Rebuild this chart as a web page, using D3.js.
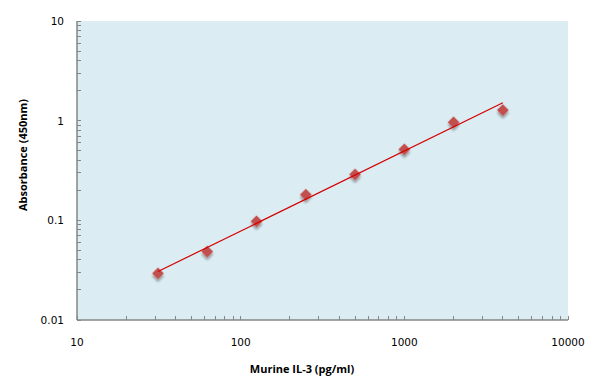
<!DOCTYPE html>
<html><head><meta charset="utf-8">
<script src="https://cdn.jsdelivr.net/npm/d3@7/dist/d3.min.js"></script>
<style>body{margin:0;background:#fff}svg{display:block}</style>
</head><body>
<svg id="c" width="596" height="391"></svg>
<script>
const concentrations = [31.25, 62.5, 125, 250, 500, 1000, 2000, 4000];
const absorbance = [0.0294, 0.0486, 0.0977, 0.181, 0.289, 0.515, 0.962, 1.277];
const xTicks = [10, 100, 1000, 10000];
const yTicks = [0.01, 0.1, 1, 10];
const xTitle = "Murine IL-3 (pg/ml)";
const yTitle = "Absorbance (450nm)";

const svg = d3.select("#c");
const L = 77, R = 568, T = 21, B = 320;
const x = d3.scaleLog().domain([10, 10000]).range([L, R]);
const y = d3.scaleLog().domain([0.01, 10]).range([B, T]);

svg.append("rect").attr("x", L).attr("y", T).attr("width", R - L).attr("height", B - T).attr("fill", "#dbedf3");

function minors(dom) {
  const out = [];
  for (let e = Math.log10(dom[0]); e < Math.log10(dom[1]); e++)
    for (let k = 1; k <= 9; k++) out.push(k * Math.pow(10, e));
  out.push(dom[1]);
  return out;
}
const axisColor = "#868686";
const gx = svg.append("g");
minors([10, 10000]).forEach(v => {
  gx.append("line").attr("x1", x(v)).attr("x2", x(v)).attr("y1", B).attr("y2", B - 4)
    .attr("stroke", axisColor).attr("shape-rendering", "crispEdges");
});
const gy = svg.append("g");
minors([0.01, 10]).forEach(v => {
  gy.append("line").attr("y1", y(v)).attr("y2", y(v)).attr("x1", L).attr("x2", L + 4)
    .attr("stroke", axisColor).attr("shape-rendering", "crispEdges");
});
svg.append("line").attr("x1", L).attr("x2", R).attr("y1", B).attr("y2", B).attr("stroke", axisColor).attr("stroke-width", 1.5);
svg.append("line").attr("x1", L).attr("x2", L).attr("y1", T).attr("y2", B).attr("stroke", axisColor).attr("stroke-width", 1.5);

const fmt = v => String(v);
svg.selectAll(".xt").data(xTicks).enter().append("text")
  .attr("x", d => x(d)).attr("y", B + 26).attr("text-anchor", "middle")
  .attr("font-family", "DejaVu Sans").attr("font-size", 10.5).attr("fill", "#000").text(fmt);
svg.selectAll(".yt").data(yTicks).enter().append("text")
  .attr("x", L - 13).attr("y", d => y(d) + 4).attr("text-anchor", "end")
  .attr("font-family", "DejaVu Sans").attr("font-size", 10.5).attr("fill", "#000").text(fmt);

svg.append("text").attr("x", 302).attr("y", 373).attr("text-anchor", "middle")
  .attr("font-family", "Open Sans").attr("font-weight", "bold").attr("font-size", 11).text(xTitle);
svg.append("text").attr("transform", "translate(27,155) rotate(-90)").attr("text-anchor", "middle")
  .attr("font-family", "Open Sans").attr("font-weight", "bold").attr("font-size", 11).text(yTitle);

const lx = concentrations.map(Math.log10), ly = absorbance.map(Math.log10);
const mx = d3.mean(lx), my = d3.mean(ly);
const slope = d3.sum(lx.map((v, i) => (v - mx) * (ly[i] - my))) / d3.sum(lx.map(v => (v - mx) ** 2));
const icpt = my - slope * mx;
const fit = xv => Math.pow(10, icpt + slope * Math.log10(xv));
const x0 = d3.min(concentrations), x1 = d3.max(concentrations);

const defs = svg.append("defs");
const f = defs.append("filter").attr("id", "sh").attr("x", "-50%").attr("y", "-50%").attr("width", "200%").attr("height", "200%");
f.append("feGaussianBlur").attr("in", "SourceAlpha").attr("stdDeviation", 1.2).attr("result", "b");
f.append("feOffset").attr("in", "b").attr("dx", 1.5).attr("dy", 2).attr("result", "o");
f.append("feComponentTransfer").attr("in", "o").attr("result", "o2").append("feFuncA").attr("type", "linear").attr("slope", 0.35);
const m = f.append("feMerge"); m.append("feMergeNode").attr("in", "o2"); m.append("feMergeNode").attr("in", "SourceGraphic");

const sym = d3.symbol().type(d3.symbolSquare).size(70);
svg.selectAll(".pt").data(concentrations).enter().append("path")
  .attr("d", sym).attr("transform", (d, i) => `translate(${x(d)},${y(absorbance[i])}) rotate(45)`)
  .attr("fill", "#c0504d").attr("filter", "url(#sh)");

svg.append("line").attr("x1", x(x0)).attr("y1", y(fit(x0))).attr("x2", x(x1)).attr("y2", y(fit(x1)))
  .attr("stroke", "#d40000").attr("stroke-width", 1.2);
</script>
</body></html>
